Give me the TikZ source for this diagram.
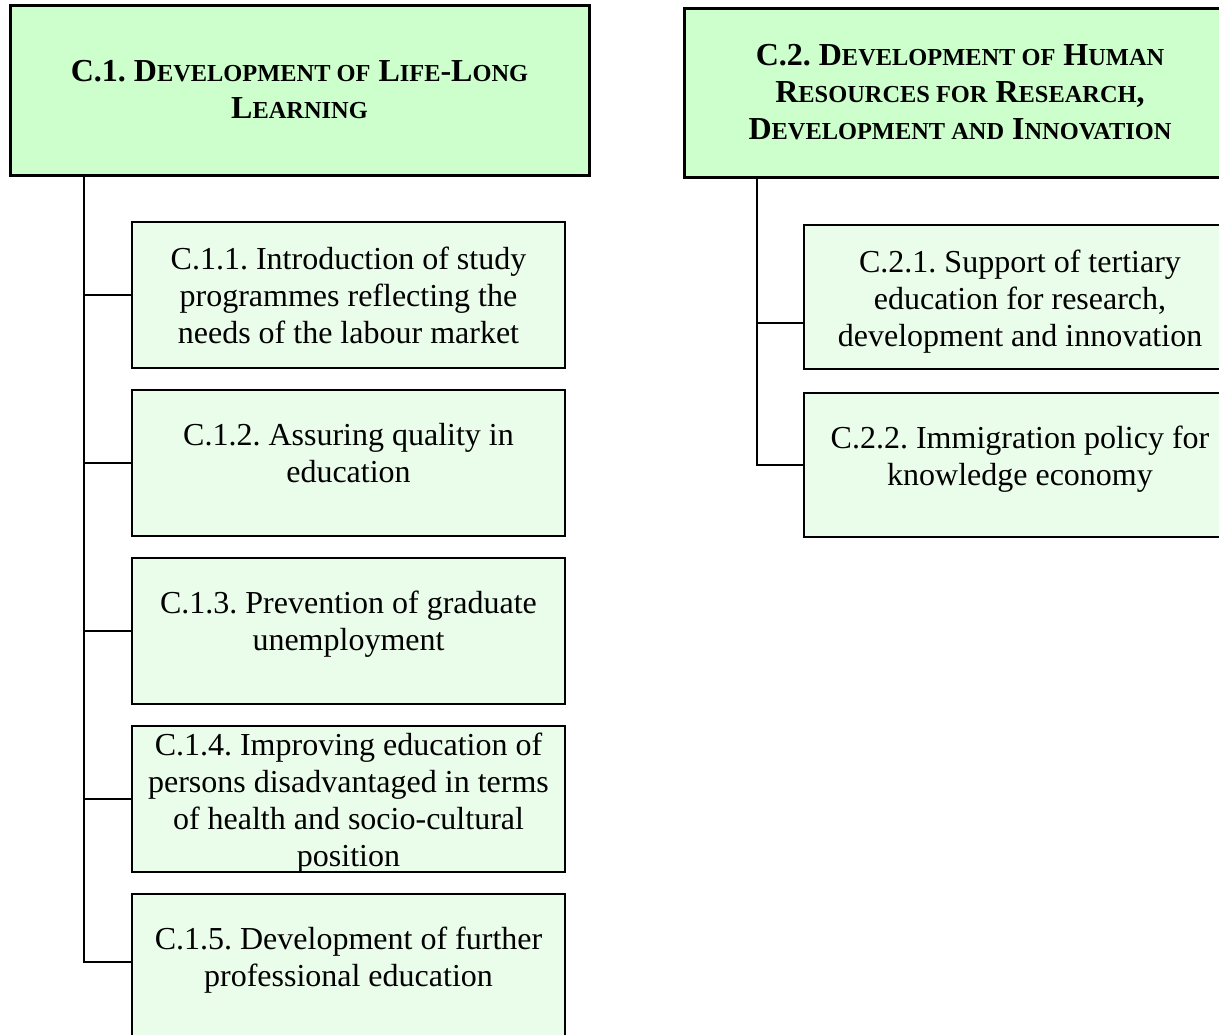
\documentclass[tikz,border=0pt]{standalone}
\usepackage{fontspec}
\setmainfont{Liberation Serif}
\usepackage{xcolor}
\usepackage{tikz}
\usetikzlibrary{positioning}
\definecolor{headgreen}{HTML}{CCFFCC}
\definecolor{subgreen}{HTML}{EAFCEA}
\newcommand{\smcap}[1]{{\fontsize{12.2}{18.5}\selectfont #1}}
\frenchspacing

\begin{document}
\begin{tikzpicture}[x=0.5pt, y=-0.5pt, node distance=11pt,
    H node/.style={rectangle, draw, line width=1.5pt, fill=headgreen, minimum height=85pt, outer sep=0pt, inner sep=0pt, align=center, font=\fontsize{16}{18.5}\selectfont\bfseries},
    S node/.style={rectangle, draw, line width=0.9pt, fill=subgreen, minimum width=216.5pt, minimum height=73pt, outer sep=0pt, inner sep=0pt},
    T node/.style={align=center, inner sep=0pt, font=\fontsize{16}{18.5}\selectfont},
    branch/.style={line width=0.8pt}]
    \useasboundingbox (0,0) rectangle (1219,1034);
    \clip (0,0) rectangle (1219,1034);

    \node[H node, minimum width=289.5pt] (C1) at (299.5,90) {C.1. D\smcap{EVELOPMENT OF} L\smcap{IFE}-L\smcap{ONG}\\L\smcap{EARNING}};
    \node[H node, minimum width=276pt, minimum height=84.5pt] (C2) at (960,92.5) {C.2. D\smcap{EVELOPMENT OF} H\smcap{UMAN}\\R\smcap{ESOURCES FOR} R\smcap{ESEARCH},\\D\smcap{EVELOPMENT AND} I\smcap{NNOVATION}};

    \node[S node] (C11) at (348.5,295) {};
    \node[S node, below=of C11] (C12) {};
    \node[S node, below=of C12] (C13) {};
    \node[S node, below=of C13] (C14) {};
    \node[S node, below=of C14] (C15) {};

    \node[S node, minimum width=216pt, minimum height=72pt] (C21) at (1020,297) {};
    \node[S node, minimum width=216pt, minimum height=72pt, below=12pt of C21] (C22) {};

    \node[T node, below=12.5pt of C11.north] (T11) {C.1.1. Introduction of study\\programmes reflecting the\\needs of the labour market};
    \node[T node, below=16.5pt of C12.north] (T12) {C.1.2. Assuring quality in\\education};
    \node[T node, below=16.5pt of C13.north] (T13) {C.1.3. Prevention of graduate\\unemployment};
    \node[T node, below=3.5pt of C14.north] (T14) {C.1.4. Improving education of\\persons disadvantaged in terms\\of health and socio-cultural\\position};
    \node[T node, below=16.5pt of C15.north] (T15) {C.1.5. Development of further\\professional education};
    \node[T node, below=12.5pt of C21.north] (T21) {C.2.1. Support of tertiary\\education for research,\\development and innovation};
    \node[T node, below=16.5pt of C22.north] (T22) {C.2.2. Immigration policy for\\knowledge economy};

    \path (C1.south west) ++(37pt,0) coordinate (s1);
    \path (C2.south west) ++(36.5pt,0) coordinate (s2);

    \foreach \n in {11,12,13,14}
        \draw[branch] (s1) |- (C\n.west);
    \draw[branch] (s1) |- ([yshift=2.5pt]C15.west);
    \draw[branch] (s2) |- ([yshift=-13pt]C21.west);
    \draw[branch] (s2) |- (C22.west);
\end{tikzpicture}
\end{document}
